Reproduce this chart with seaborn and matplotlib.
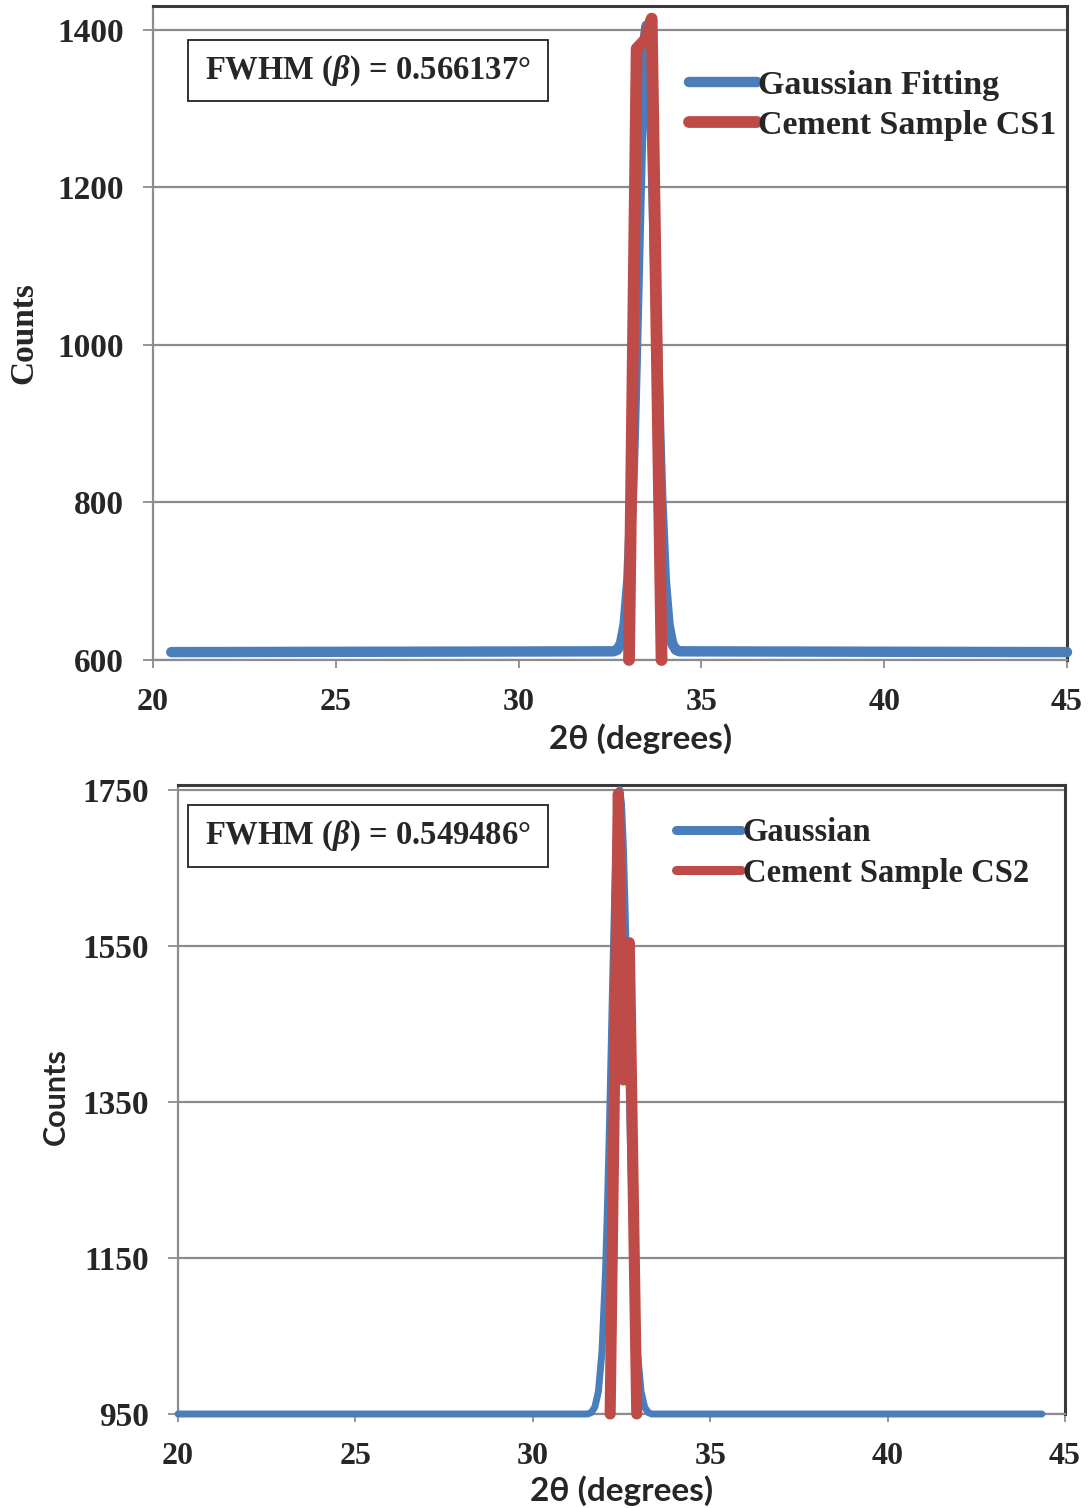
import matplotlib
matplotlib.use('Agg')
import matplotlib.pyplot as plt
from matplotlib.patches import Rectangle
import seaborn as sns

# data
# top panel (CS1)
gauss1_x = [20.5, 32.6, 32.7, 32.8, 32.9, 33.0, 33.1,
            33.15, 33.2, 33.25, 33.3, 33.35, 33.4, 33.45, 33.5, 33.55, 33.6, 33.65, 33.7, 33.75, 33.8, 33.85,
            33.9, 34.0, 34.1, 34.2, 34.3, 34.4, 45.0]
gauss1_y = [610, 611, 613, 621, 645, 701, 808,
            884, 974, 1072, 1172, 1264, 1339, 1388, 1405, 1388, 1339, 1264, 1172, 1072, 974, 884,
            808, 701, 645, 621, 613, 611, 610]
cs1_x = [33.02, 33.23, 33.46, 33.58, 33.64, 33.91]
cs1_y = [600, 1376, 1387, 1405, 1414, 600]

# bottom panel (CS2)
gauss2_x = [20.0, 31.55, 31.65, 31.75, 31.85, 31.95, 32.05,
            32.10, 32.15, 32.20, 32.25, 32.30, 32.35, 32.40, 32.45, 32.50, 32.55, 32.60, 32.65, 32.70, 32.75, 32.80,
            32.85, 32.95, 33.05, 33.15, 33.25, 33.35, 44.35]
gauss2_y = [950, 950, 952, 959, 979, 1030, 1133,
            1209, 1299, 1400, 1504, 1600, 1680, 1732, 1750, 1732, 1680, 1600, 1504, 1400, 1299, 1209,
            1133, 1030, 979, 959, 952, 950, 950]
cs2_x = [32.18, 32.41, 32.55, 32.72, 32.93]
cs2_y = [950, 1745, 1378, 1554, 950]

xticks = [20, 25, 30, 35, 40, 45]
yticks1 = [600, 800, 1000, 1200, 1400]
yticks2 = [950, 1150, 1350, 1550, 1750]

blue = '#4A7EBB'
red = '#BE4B48'

sns.set_style('white')
plt.rcParams['font.family'] = ['Liberation Serif', 'DejaVu Serif']
plt.rcParams['font.weight'] = 'bold'
plt.rcParams['mathtext.fontset'] = 'custom'
plt.rcParams['mathtext.it'] = 'Liberation Serif:bold:italic'
plt.rcParams['mathtext.rm'] = 'Liberation Serif:bold'

fig = plt.figure(figsize=(10.88, 15.08), dpi=100)
ax1 = fig.add_axes([153 / 1088, 1 - 660 / 1508, (1067 - 153) / 1088, (660 - 6) / 1508])
ax2 = fig.add_axes([178 / 1088, 1 - 1414 / 1508, (1065 - 178) / 1088, (1414 - 785) / 1508])


def style_axes(ax, yticks, ylim):
    ax.set_xlim(20, 45)
    ax.set_ylim(*ylim)
    ax.set_xticks(xticks)
    ax.set_yticks(yticks)
    ax.yaxis.grid(True, color='#8c8c8c', lw=1.6)
    ax.xaxis.grid(False)
    ax.set_axisbelow(True)
    for s in ['top', 'right']:
        ax.spines[s].set_color('#3a3a3a')
        ax.spines[s].set_linewidth(2.2)
    for s in ['left', 'bottom']:
        ax.spines[s].set_color('#8c8c8c')
        ax.spines[s].set_linewidth(1.6)
    ax.tick_params(axis='x', direction='out', length=6, width=1.3, color='#8c8c8c',
                   pad=14, labelsize=23, bottom=True)
    ax.tick_params(axis='y', direction='out', length=7, width=1.3, color='#8c8c8c',
                   pad=14, labelsize=24, left=True)
    for lab in ax.get_xticklabels() + ax.get_yticklabels():
        lab.set_fontweight('bold')


def fwhm_box(ax, x, y, w, h, text):
    ax.add_patch(Rectangle((x, y), w, h, transform=ax.transAxes, fc='white',
                           ec='#222222', lw=1.3, zorder=5))
    ax.text(x + w / 2, y + h / 2, text, transform=ax.transAxes, ha='center', va='center',
            fontsize=23.5, fontweight='bold', zorder=6)


# top panel
sns.lineplot(x=gauss1_x, y=gauss1_y, ax=ax1, color=blue, linewidth=7.5, sort=False, estimator=None,
             label='Gaussian Fitting', solid_capstyle='round', clip_on=False, zorder=3)
sns.lineplot(x=cs1_x, y=cs1_y, ax=ax1, color=red, linewidth=8.5, sort=False, estimator=None,
             label='Cement Sample CS1', solid_capstyle='round', clip_on=False, zorder=4)
style_axes(ax1, yticks1, (600, 1430))
ax1.set_ylabel('Counts', fontsize=24, fontweight='bold', family='Liberation Serif')
ax1.yaxis.set_label_coords(-0.124, 0.5)
ax1.set_xlabel('2θ (degrees)', fontsize=24, fontweight='bold', family='Lato')
ax1.xaxis.set_label_coords(0.533, -0.097)
ax1.legend(loc='center left', bbox_to_anchor=(0.586, 0.848), frameon=False,
           prop={'family': 'Liberation Serif', 'weight': 'bold', 'size': 24.5},
           handlelength=2.0, handletextpad=0.05, borderpad=0, borderaxespad=0, labelspacing=0.25)
fwhm_box(ax1, 0.0383, 0.8547, 0.394, 0.0933, r'FWHM ($\beta$) = 0.566137°')

# bottom panel
sns.lineplot(x=gauss2_x, y=gauss2_y, ax=ax2, color=blue, linewidth=5, sort=False, estimator=None,
             label='Gaussian', solid_capstyle='round', clip_on=False, zorder=3)
sns.lineplot(x=cs2_x, y=cs2_y, ax=ax2, color=red, linewidth=8, sort=False, estimator=None,
             label='Cement Sample CS2', solid_capstyle='round', clip_on=False, zorder=4)
style_axes(ax2, yticks2, (950, 1756))
ax2.set_ylabel('Counts', fontsize=22, fontweight='bold', family='Lato')
ax2.yaxis.set_label_coords(-0.122, 0.504)
ax2.set_xlabel('2θ (degrees)', fontsize=24, fontweight='bold', family='Lato')
ax2.xaxis.set_label_coords(0.5006, -0.097)
leg2 = ax2.legend(loc='center left', bbox_to_anchor=(0.561, 0.892), frameon=False,
                  prop={'family': 'Liberation Serif', 'weight': 'bold', 'size': 23.5},
                  handlelength=2.0, handletextpad=0.05, borderpad=0, borderaxespad=0, labelspacing=0.3)
for h in leg2.get_lines():
    h.set_linewidth(6.5)
fwhm_box(ax2, 0.0113, 0.8696, 0.406, 0.0986, r'FWHM ($\beta$) = 0.549486°')

fig.savefig('out.png', dpi=100)
